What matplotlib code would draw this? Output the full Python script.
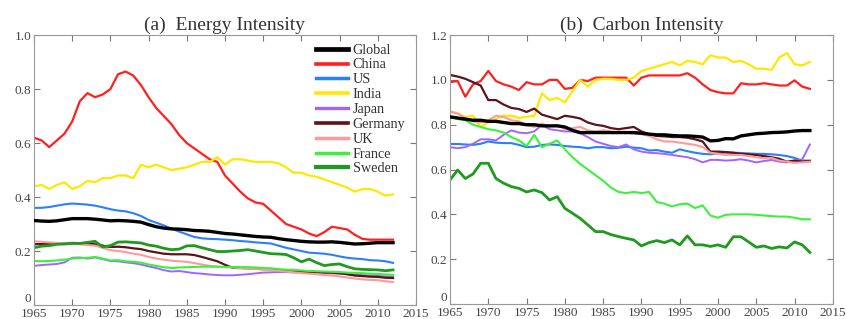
import numpy as np
import matplotlib
matplotlib.use("Agg")
import matplotlib.pyplot as plt

years = list(range(1965, 2013))

# (a) energy intensity
energy_global = [0.313, 0.311, 0.310, 0.312, 0.316, 0.320, 0.320, 0.320, 0.318, 0.315, 0.312, 0.313,
                 0.312, 0.310, 0.307, 0.298, 0.290, 0.285, 0.282, 0.281, 0.279, 0.276, 0.275, 0.273,
                 0.269, 0.265, 0.263, 0.260, 0.257, 0.254, 0.252, 0.251, 0.246, 0.242, 0.239, 0.236,
                 0.234, 0.233, 0.233, 0.234, 0.232, 0.229, 0.226, 0.227, 0.229, 0.231, 0.231, 0.231]
energy_china = [0.62, 0.61, 0.585, 0.61, 0.635, 0.68, 0.755, 0.785, 0.77, 0.78, 0.80, 0.855,
                0.865, 0.85, 0.815, 0.77, 0.73, 0.70, 0.67, 0.63, 0.60, 0.58, 0.56, 0.54,
                0.53, 0.48, 0.45, 0.42, 0.395, 0.38, 0.375, 0.35, 0.325, 0.30, 0.29, 0.28,
                0.265, 0.255, 0.27, 0.29, 0.285, 0.28, 0.26, 0.245, 0.242, 0.242, 0.242, 0.242]
energy_us = [0.360, 0.360, 0.363, 0.368, 0.373, 0.376, 0.374, 0.372, 0.368, 0.362, 0.355, 0.350,
             0.347, 0.340, 0.330, 0.315, 0.305, 0.295, 0.283, 0.272, 0.262, 0.252, 0.247, 0.245,
             0.244, 0.242, 0.240, 0.237, 0.235, 0.232, 0.230, 0.228, 0.220, 0.212, 0.206, 0.200,
             0.194, 0.192, 0.190, 0.186, 0.180, 0.175, 0.172, 0.170, 0.166, 0.165, 0.162, 0.156]
energy_india = [0.44, 0.445, 0.43, 0.445, 0.455, 0.43, 0.44, 0.46, 0.455, 0.47, 0.47, 0.48,
                0.48, 0.47, 0.52, 0.51, 0.52, 0.51, 0.50, 0.505, 0.51, 0.52, 0.53, 0.53,
                0.548, 0.52, 0.54, 0.54, 0.535, 0.53, 0.53, 0.53, 0.525, 0.51, 0.49, 0.49,
                0.48, 0.475, 0.465, 0.455, 0.445, 0.435, 0.42, 0.43, 0.43, 0.42, 0.405, 0.41]
energy_japan = [0.145, 0.148, 0.150, 0.152, 0.158, 0.175, 0.176, 0.172, 0.176, 0.170, 0.163, 0.162,
                0.158, 0.155, 0.150, 0.143, 0.137, 0.129, 0.124, 0.126, 0.122, 0.118, 0.116, 0.113,
                0.111, 0.110, 0.110, 0.112, 0.114, 0.117, 0.120, 0.121, 0.122, 0.122, 0.121, 0.121,
                0.120, 0.120, 0.118, 0.117, 0.116, 0.114, 0.112, 0.111, 0.109, 0.108, 0.106, 0.105]
energy_germany = [0.225, 0.226, 0.226, 0.228, 0.229, 0.230, 0.229, 0.227, 0.225, 0.220, 0.215, 0.216,
                  0.214, 0.210, 0.207, 0.200, 0.195, 0.190, 0.188, 0.188, 0.188, 0.185, 0.178, 0.170,
                  0.162, 0.149, 0.138, 0.137, 0.136, 0.135, 0.133, 0.132, 0.130, 0.128, 0.126, 0.124,
                  0.123, 0.122, 0.121, 0.120, 0.118, 0.114, 0.109, 0.107, 0.105, 0.104, 0.101, 0.100]
energy_uk = [0.236, 0.234, 0.232, 0.230, 0.229, 0.228, 0.225, 0.222, 0.220, 0.212, 0.203, 0.200,
             0.196, 0.190, 0.186, 0.178, 0.172, 0.168, 0.164, 0.162, 0.160, 0.155, 0.150, 0.145,
             0.142, 0.140, 0.139, 0.137, 0.135, 0.133, 0.131, 0.130, 0.127, 0.124, 0.121, 0.118,
             0.116, 0.114, 0.111, 0.109, 0.106, 0.102, 0.098, 0.095, 0.093, 0.092, 0.088, 0.085]
energy_france = [0.163, 0.162, 0.163, 0.165, 0.168, 0.172, 0.174, 0.175, 0.178, 0.172, 0.165, 0.166,
                 0.162, 0.160, 0.157, 0.150, 0.145, 0.140, 0.137, 0.139, 0.140, 0.141, 0.142, 0.142,
                 0.142, 0.141, 0.141, 0.141, 0.140, 0.139, 0.137, 0.136, 0.133, 0.131, 0.130, 0.128,
                 0.126, 0.125, 0.124, 0.123, 0.122, 0.120, 0.119, 0.118, 0.116, 0.115, 0.113, 0.112]
energy_sweden = [0.212, 0.218, 0.220, 0.225, 0.226, 0.228, 0.228, 0.232, 0.236, 0.215, 0.220, 0.233,
                 0.234, 0.232, 0.230, 0.222, 0.218, 0.210, 0.205, 0.207, 0.219, 0.220, 0.212, 0.205,
                 0.198, 0.198, 0.200, 0.202, 0.205, 0.200, 0.195, 0.190, 0.189, 0.187, 0.175, 0.160,
                 0.170, 0.157, 0.146, 0.150, 0.152, 0.142, 0.134, 0.132, 0.131, 0.130, 0.127, 0.130]

# (b) carbon intensity
carbon_global = [0.835, 0.830, 0.825, 0.820, 0.820, 0.815, 0.815, 0.810, 0.805, 0.805, 0.800, 0.800,
                 0.795, 0.795, 0.795, 0.790, 0.775, 0.765, 0.765, 0.765, 0.765, 0.765, 0.765, 0.765,
                 0.765, 0.762, 0.758, 0.755, 0.755, 0.752, 0.750, 0.750, 0.748, 0.745, 0.728, 0.730,
                 0.738, 0.737, 0.750, 0.755, 0.760, 0.762, 0.765, 0.766, 0.768, 0.772, 0.774, 0.774]
carbon_china = [0.99, 0.995, 0.925, 0.98, 0.995, 1.04, 0.995, 0.98, 0.97, 0.955, 0.99, 0.98,
                0.98, 1.0, 1.0, 0.96, 0.965, 1.0, 0.995, 1.01, 1.01, 1.01, 1.01, 1.01,
                0.975, 1.01, 1.02, 1.02, 1.02, 1.02, 1.02, 1.03, 1.01, 0.98, 0.955, 0.945,
                0.94, 0.94, 0.985, 0.98, 0.98, 0.985, 0.98, 0.975, 0.975, 0.998, 0.97, 0.96]
carbon_us = [0.714, 0.714, 0.712, 0.710, 0.715, 0.725, 0.720, 0.718, 0.718, 0.710, 0.700, 0.702,
             0.710, 0.712, 0.710, 0.705, 0.702, 0.700, 0.695, 0.700, 0.700, 0.695, 0.697, 0.702,
             0.698, 0.695, 0.685, 0.687, 0.680, 0.675, 0.690, 0.682, 0.675, 0.670, 0.668, 0.672,
             0.676, 0.675, 0.674, 0.672, 0.670, 0.670, 0.668, 0.665, 0.660, 0.652, 0.640, 0.640]
carbon_india = [0.86, 0.85, 0.835, 0.84, 0.79, 0.81, 0.825, 0.84, 0.84, 0.83, 0.835, 0.84,
                0.94, 0.91, 0.92, 0.90, 0.95, 1.0, 0.97, 1.0, 1.005, 1.005, 1.0, 1.0,
                1.01, 1.04, 1.05, 1.06, 1.07, 1.08, 1.065, 1.085, 1.08, 1.07, 1.11, 1.10,
                1.10, 1.08, 1.085, 1.07, 1.05, 1.05, 1.045, 1.10, 1.12, 1.07, 1.065, 1.08]
carbon_japan = [0.700, 0.695, 0.700, 0.715, 0.735, 0.735, 0.730, 0.755, 0.775, 0.765, 0.762, 0.770,
                0.800, 0.780, 0.775, 0.770, 0.770, 0.762, 0.745, 0.725, 0.715, 0.705, 0.700, 0.712,
                0.690, 0.680, 0.675, 0.673, 0.670, 0.665, 0.660, 0.655, 0.646, 0.632, 0.643, 0.643,
                0.640, 0.642, 0.646, 0.640, 0.632, 0.638, 0.643, 0.635, 0.632, 0.640, 0.645, 0.712]
carbon_germany = [1.022, 1.015, 1.005, 0.990, 0.975, 0.910, 0.910, 0.890, 0.875, 0.870, 0.857, 0.872,
                  0.845, 0.835, 0.825, 0.840, 0.835, 0.828, 0.810, 0.800, 0.795, 0.785, 0.780, 0.785,
                  0.790, 0.770, 0.758, 0.750, 0.748, 0.745, 0.745, 0.742, 0.735, 0.725, 0.680, 0.680,
                  0.678, 0.675, 0.670, 0.668, 0.665, 0.660, 0.655, 0.648, 0.635, 0.640, 0.635, 0.638]
carbon_uk = [0.858, 0.850, 0.830, 0.815, 0.810, 0.820, 0.840, 0.835, 0.820, 0.815, 0.800, 0.790,
             0.805, 0.792, 0.800, 0.780, 0.785, 0.790, 0.775, 0.770, 0.775, 0.770, 0.765, 0.765,
             0.760, 0.758, 0.750, 0.735, 0.725, 0.725, 0.720, 0.715, 0.710, 0.700, 0.675, 0.670,
             0.665, 0.665, 0.665, 0.660, 0.655, 0.650, 0.652, 0.640, 0.635, 0.630, 0.632, 0.635]
carbon_france = [0.835, 0.825, 0.820, 0.800, 0.790, 0.780, 0.775, 0.765, 0.745, 0.730, 0.705, 0.755,
                 0.700, 0.715, 0.730, 0.690, 0.655, 0.625, 0.600, 0.575, 0.550, 0.520, 0.500, 0.495,
                 0.500, 0.495, 0.500, 0.455, 0.448, 0.435, 0.445, 0.448, 0.428, 0.440, 0.395, 0.385,
                 0.398, 0.400, 0.400, 0.400, 0.398, 0.395, 0.392, 0.390, 0.390, 0.385, 0.378, 0.378]
carbon_sweden = [0.554, 0.598, 0.560, 0.580, 0.628, 0.628, 0.560, 0.539, 0.524, 0.516, 0.500, 0.509,
                 0.497, 0.464, 0.479, 0.427, 0.405, 0.382, 0.353, 0.323, 0.323, 0.310, 0.301, 0.293,
                 0.286, 0.259, 0.274, 0.283, 0.274, 0.286, 0.264, 0.304, 0.264, 0.264, 0.257, 0.264,
                 0.253, 0.300, 0.300, 0.277, 0.253, 0.259, 0.248, 0.255, 0.250, 0.277, 0.264, 0.230]

names = ["Global", "China", "US", "India", "Japan", "Germany", "UK", "France", "Sweden"]
colors = ["#000000", "#ff2020", "#2a7fff", "#ffe800", "#a264ff", "#5c1418", "#ff9a9a", "#3cf03c", "#1e9a1e"]
widths = [2.4, 1.6, 1.5, 1.6, 1.4, 1.6, 1.5, 1.5, 2.0]

energy = [energy_global, energy_china, energy_us, energy_india, energy_japan,
          energy_germany, energy_uk, energy_france, energy_sweden]
carbon = [carbon_global, carbon_china, carbon_us, carbon_india, carbon_japan,
          carbon_germany, carbon_uk, carbon_france, carbon_sweden]

plt.rcParams['font.family'] = ['Liberation Serif', 'DejaVu Serif']
fig = plt.figure(figsize=(8.47, 3.19), dpi=100)
ax1 = fig.add_axes([0.0401, 0.0439, 0.451, 0.846])
ax2 = fig.add_axes([0.5313, 0.047, 0.452, 0.843])

txt = "#444444"
for ax, data, ymax, title in [(ax1, energy, 1.0, "(a)  Energy Intensity"),
                              (ax2, carbon, 1.2, "(b)  Carbon Intensity")]:
    # global drawn last so it sits on top
    order = list(range(1, 9)) + [0]
    for i in order:
        ax.plot(years, data[i], color=colors[i], lw=widths[i], label=names[i],
                zorder=3 if i == 0 else 2)
    ax.set_xlim(1965, 2015)
    ax.set_ylim(0, ymax)
    ax.set_xticks(range(1965, 2016, 5))
    yt = np.round(np.arange(0, ymax + 0.01, 0.2), 1)
    ax.set_yticks(yt)
    ax.set_yticklabels(["0" if v == 0 else "%.1f" % v for v in yt])
    ax.tick_params(direction="in", top=True, right=True, length=4, width=0.8,
                   colors="#777777", labelcolor=txt, labelsize=9.5, pad=2)
    ax.get_yticklabels()[0].set_va("bottom")
    for s in ax.spines.values():
        s.set_color("#999999")
        s.set_linewidth(0.8)
    ax.set_title(title, fontsize=14, color="#333333", pad=4)

h, l = ax1.get_legend_handles_labels()
lookup = dict(zip(l, h))
leg = ax1.legend([lookup[n] for n in names], names, loc="upper right",
                 bbox_to_anchor=(0.995, 1.0), frameon=False, fontsize=10.2,
                 handlelength=2.25, handletextpad=0.35, labelspacing=0.13,
                 borderaxespad=0.2)
for line in leg.get_lines():
    line.set_linewidth(line.get_linewidth() + 1.0)
for t in leg.get_texts():
    t.set_color("#333333")

fig.savefig("out.png", dpi=100)
